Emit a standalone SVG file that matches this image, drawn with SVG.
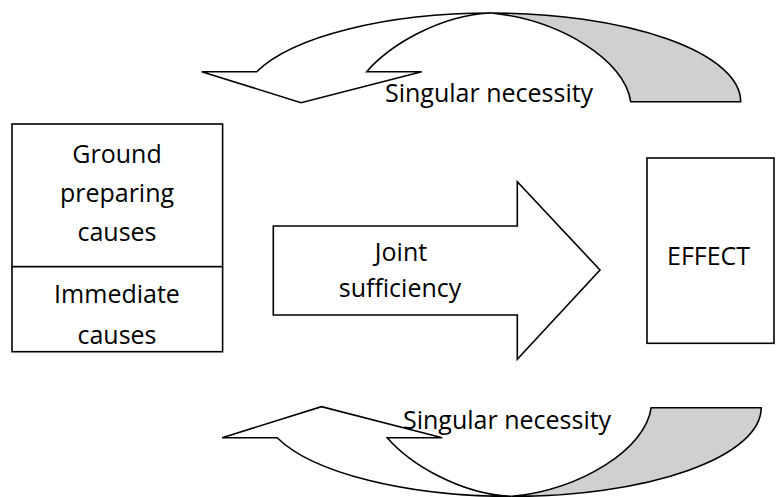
<svg xmlns="http://www.w3.org/2000/svg" width="776" height="497" viewBox="0 0 776 497">
<style>
.s{stroke:#000;stroke-width:1.6;stroke-linejoin:miter}
.w{fill:#fff}
.g{fill:#d0d0d0}
text{font-family:"Open Sans","Noto Sans","Liberation Sans",sans-serif;font-size:25px;fill:#000}
.c{text-anchor:middle}
</style>
<defs>
<g id="curved">
<path class="s g" d="M491.3,13 C560,20 625,60 630.7,101.7 L740.7,101.7 A249.4,88.7 0 0 0 491.3,13 Z"/>
<path class="s w" d="M256.7,71.7 L201.7,71.7 L301,102.7 L421.7,71.7 L366.7,71.7 C390,45 440,15 491.3,13 A249.4,88.7 0 0 0 256.7,71.7 Z"/>
</g>
</defs>
<rect width="776" height="497" fill="#fff"/>
<g id="connectors">
<g id="necessity-top">
<use href="#curved"/>
<text x="385" y="102">Singular necessity</text>
</g>
<g id="necessity-bottom">
<use href="#curved" transform="translate(20.5,509.4) scale(1,-1)"/>
<text x="403" y="429">Singular necessity</text>
</g>
<g id="joint-sufficiency">
<path class="s w" d="M273.3,226 L517.3,226 L517.3,181.7 L600,270 L517.3,359.3 L517.3,315 L273.3,315 Z"/>
<text class="c" x="401" y="261">Joint</text>
<text class="c" x="400" y="297">sufficiency</text>
</g>
</g>
<g id="ground-preparing">
<rect class="s w" x="12" y="124" width="210.6" height="142.7"/>
<text class="c" x="117" y="163">Ground</text>
<text class="c" x="117" y="202">preparing</text>
<text class="c" x="117" y="241">causes</text>
</g>
<g id="immediate">
<rect class="s w" x="12" y="266.7" width="210.6" height="85"/>
<text class="c" x="117" y="303">Immediate</text>
<text class="c" x="117" y="344">causes</text>
</g>
<g id="effect">
<rect class="s w" x="647" y="158" width="127" height="185.3"/>
<text x="667" y="265">EFFECT</text>
</g>
</svg>
